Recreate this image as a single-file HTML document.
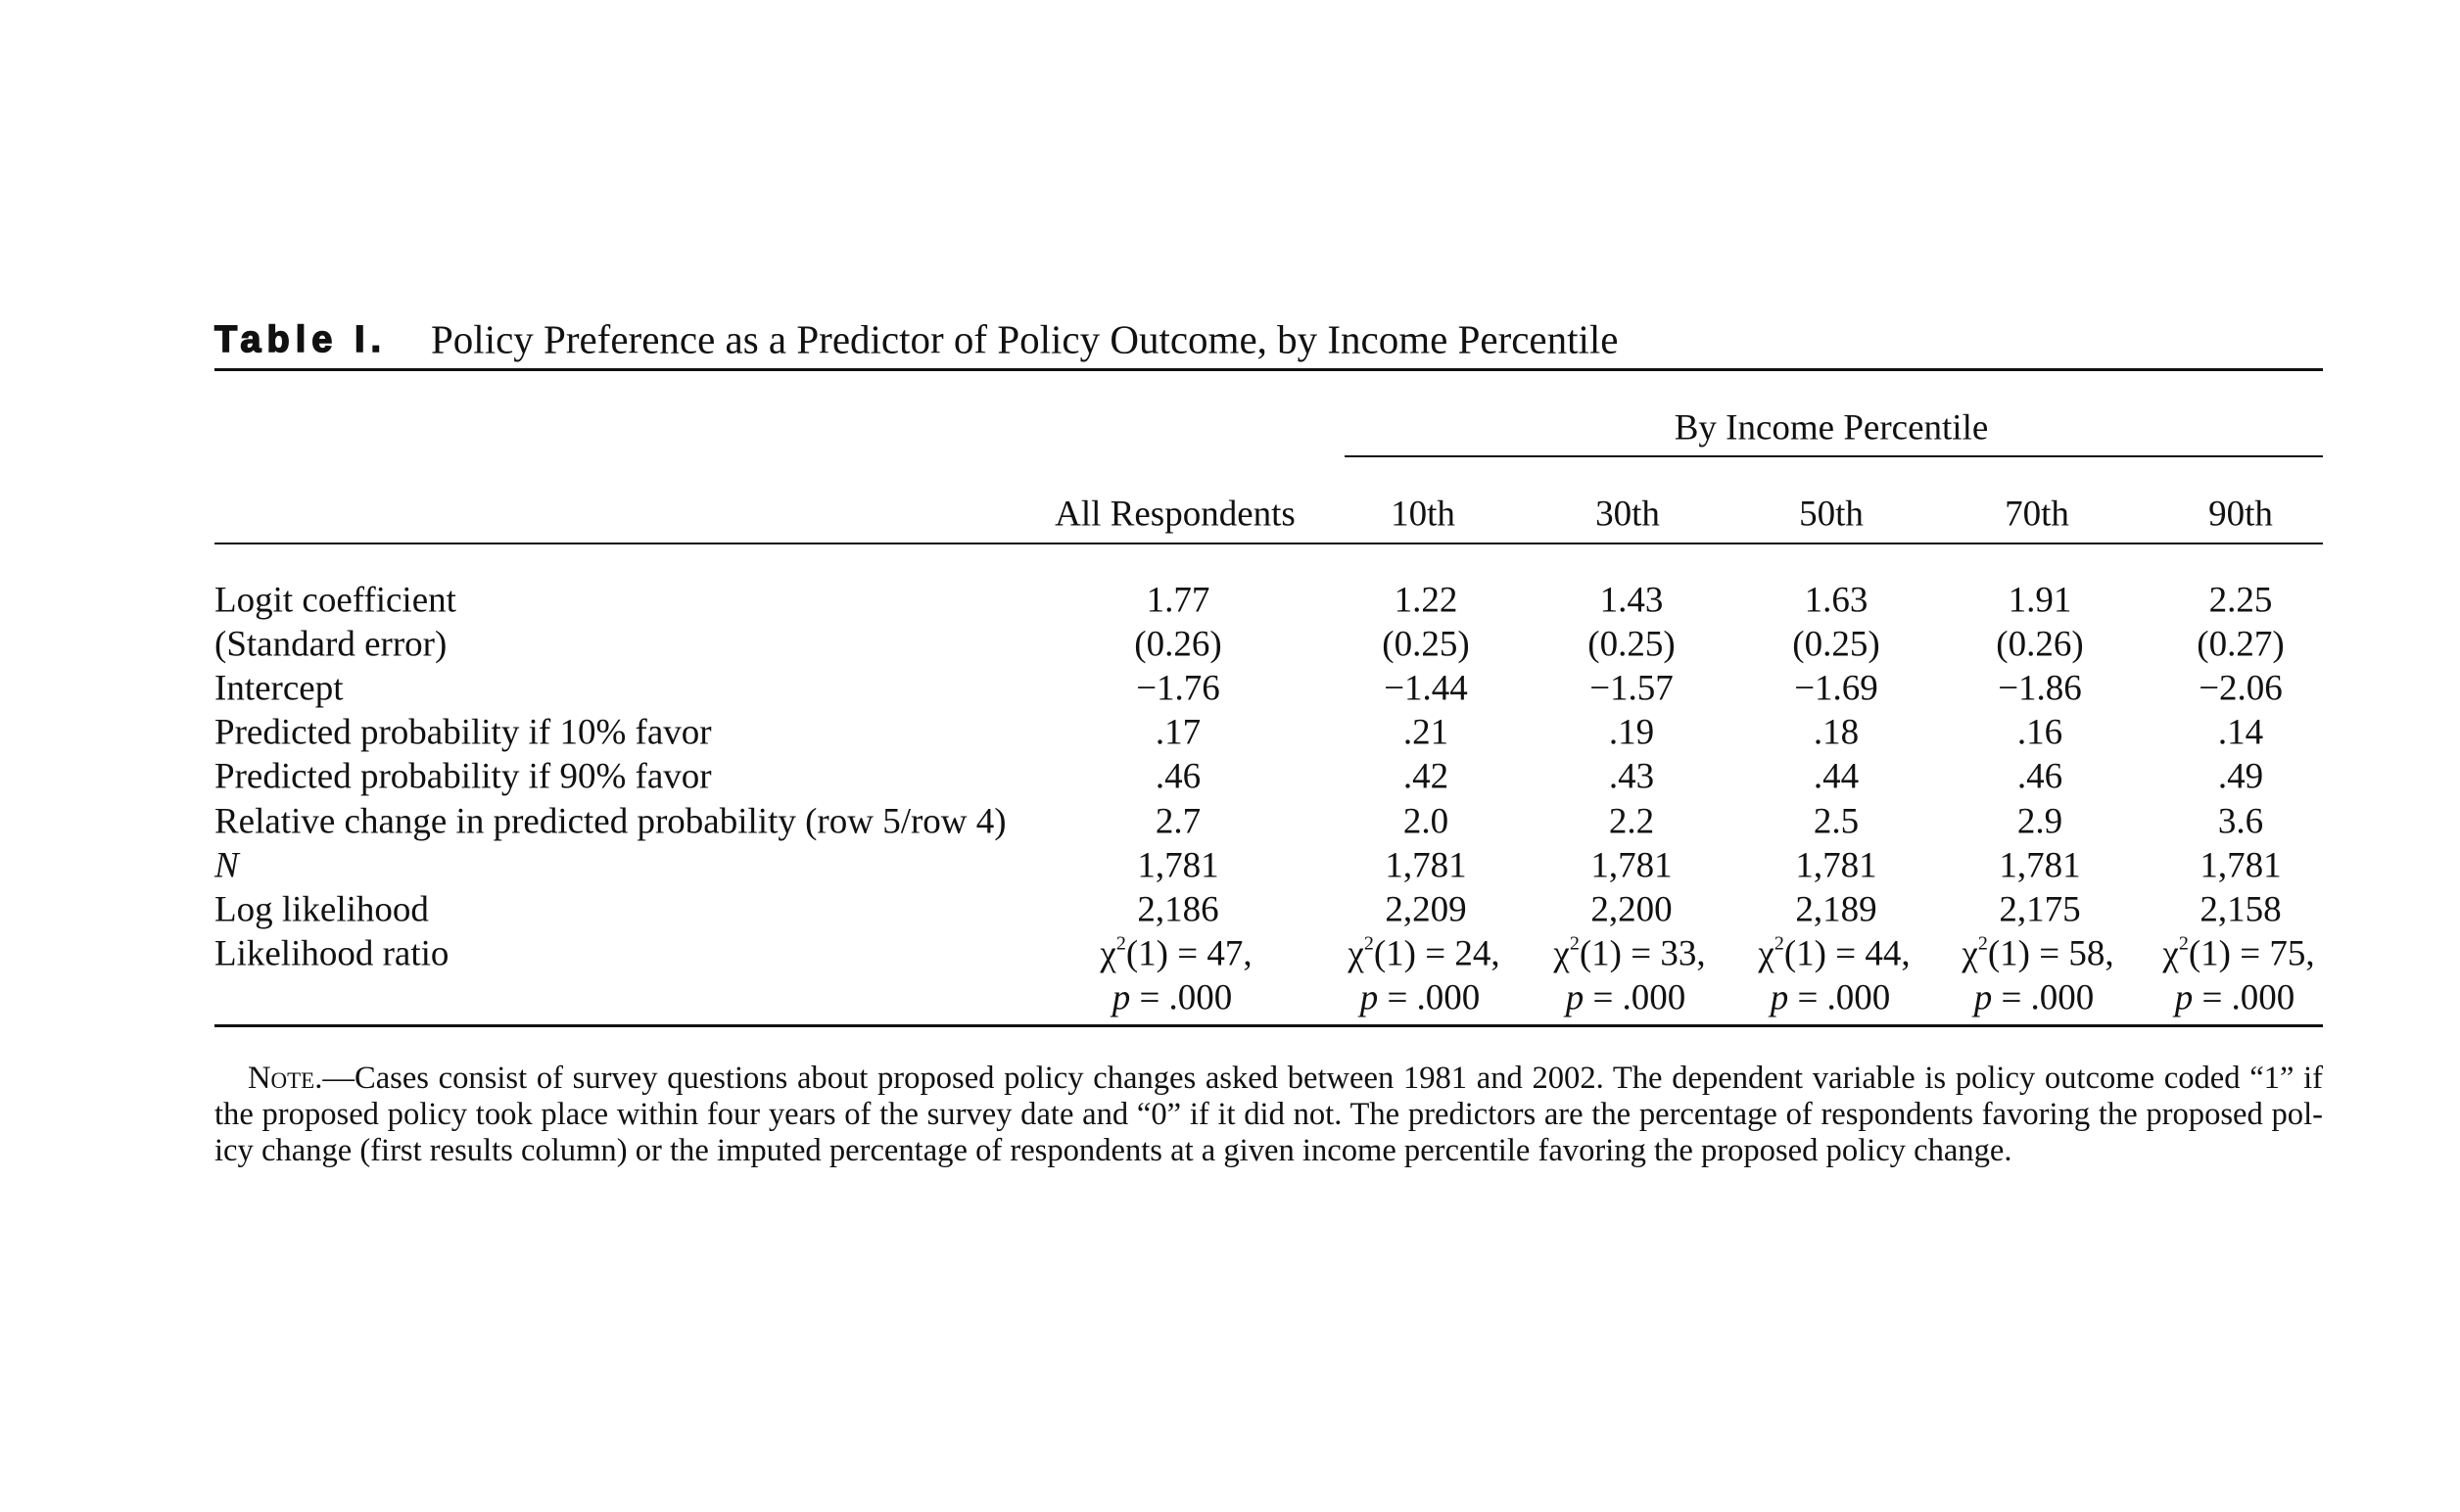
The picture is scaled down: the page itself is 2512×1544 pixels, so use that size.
<!DOCTYPE html>
<html><head><meta charset="utf-8">
<style>
html,body{margin:0;padding:0;background:#fff;}
body{width:2512px;height:1544px;position:relative;overflow:hidden;font-family:"Liberation Serif",serif;color:#111;}
.a{position:absolute;white-space:nowrap;line-height:1;}
.c{transform:translate(-50%,-50%);}
.l{transform:translateY(-50%);}
.rule{position:absolute;background:#111;}
.cell{font-size:37px;}
sup{font-size:20px;vertical-align:16px;line-height:0;}
.note{position:absolute;left:219px;width:2153px;font-size:32.6px;line-height:37px;text-align:justify;text-align-last:justify;white-space:nowrap;}
</style></head><body>
<div class="a l" style="left:219px;top:347px;font-family:'Liberation Sans',sans-serif;font-weight:bold;font-size:38px;letter-spacing:6px;-webkit-text-stroke:1.5px #111;">Table I.</div>
<div class="a l" style="left:440px;top:347px;font-size:41px;">Policy Preference as a Predictor of Policy Outcome, by Income Percentile</div>
<div class="rule" style="left:219px;top:376px;width:2153px;height:3px;"></div>
<div class="a c cell" style="left:1870px;top:437px;">By Income Percentile</div>
<div class="rule" style="left:1373px;top:465px;width:999px;height:2px;"></div>
<div class="rule" style="left:219px;top:554px;width:2153px;height:2px;"></div>
<div class="rule" style="left:219px;top:1046px;width:2153px;height:3px;"></div>
<div id="tbl"></div>
<div class="note" style="top:1083px;text-indent:34px;"><span style="font-variant:small-caps;">Note</span>.—Cases consist of survey questions about proposed policy changes asked between 1981 and 2002. The dependent variable is policy outcome coded “1” if</div>
<div class="note" style="top:1120px;">the proposed policy took place within four years of the survey date and “0” if it did not. The predictors are the percentage of respondents favoring the proposed pol-</div>
<div class="note" style="top:1157px;text-align-last:left;">icy change (first results column) or the imputed percentage of respondents at a given income percentile favoring the proposed policy change.</div>
<script>
const headers=["All Respondents","10th","30th","50th","70th","90th"];
const rowLabels=["Logit coefficient","(Standard error)","Intercept","Predicted probability if 10% favor","Predicted probability if 90% favor","Relative change in predicted probability (row 5/row 4)","<i>N</i>","Log likelihood","Likelihood ratio"];
const coef=["1.77","1.22","1.43","1.63","1.91","2.25"];
const se=["(0.26)","(0.25)","(0.25)","(0.25)","(0.26)","(0.27)"];
const intercept=["−1.76","−1.44","−1.57","−1.69","−1.86","−2.06"];
const p10=[".17",".21",".19",".18",".16",".14"];
const p90=[".46",".42",".43",".44",".46",".49"];
const rel=["2.7","2.0","2.2","2.5","2.9","3.6"];
const nobs=["1,781","1,781","1,781","1,781","1,781","1,781"];
const loglik=["2,186","2,209","2,200","2,189","2,175","2,158"];
const chi=["47","24","33","44","58","75"];
const pval=[".000",".000",".000",".000",".000",".000"];
const hdrX=[1200,1453,1662,1870,2080,2288];
const colX=[1203,1456,1666,1875,2083,2288];
const tbl=document.getElementById('tbl');
function add(html,x,y,cls){const d=document.createElement('div');d.className='a cell '+cls;d.style.left=x+'px';d.style.top=y+'px';d.innerHTML=html;tbl.appendChild(d);return d;}
headers.forEach((h,i)=>{const d=add(h,hdrX[i],525,'c');

});
rowLabels.forEach((r,i)=>{const d=add(r,219,613+i*45.1,'l');

});
const rows=[coef,se,intercept,p10,p90,rel,nobs,loglik];
rows.forEach((arr,ri)=>arr.forEach((v,ci)=>{const d=add(v,colX[ci],613+ri*45.1,'c');

}));
chi.forEach((v,ci)=>{const d=add('χ<sup>2</sup>(1) = '+v+',',colX[ci]-2,613+8*45.1,'c');


const e=add('<i>p</i> = '+pval[ci],colX[ci]-6,613+9*45.1,'c');

});
</script>
</body></html>
